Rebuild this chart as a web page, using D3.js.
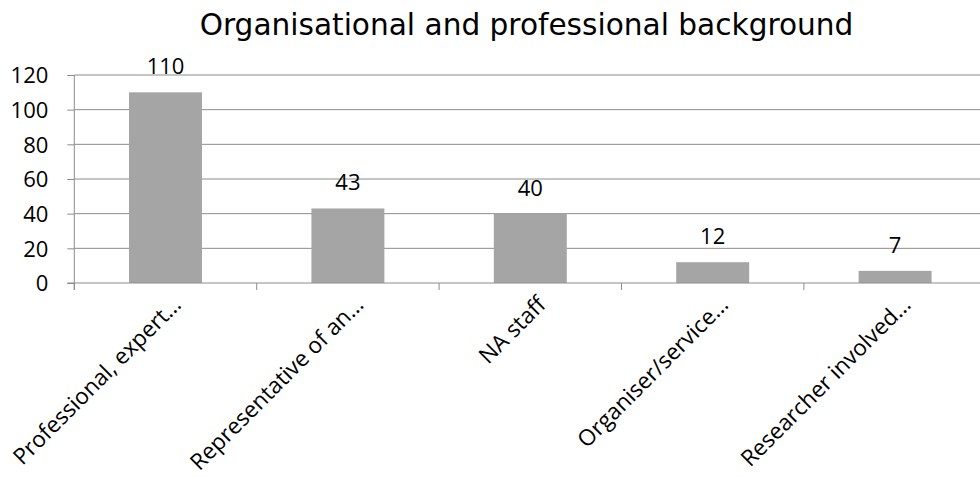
<!DOCTYPE html>
<html><head><meta charset="utf-8">
<script src="https://cdn.jsdelivr.net/npm/d3@7"></script>
<style>body{margin:0;background:#fff;}svg{display:block;}</style>
</head><body>
<script>
const categories = ["Professional, expert…","Representative of an…","NA staff","Organiser/service…","Researcher involved…"];
const values = [110, 43, 40, 12, 7];
const yTicks = [0, 20, 40, 60, 80, 100, 120];
const title = "Organisational and professional background";

(function(){
const W = 980, H = 477;
const svg = d3.select("body").append("svg").attr("width", W).attr("height", H);
const pL = 74.3, pR = 986.3, pT = 75, pB = 283;
const x = d3.scaleBand().domain(categories).range([pL, pR]).paddingInner(0.6).paddingOuter(0.3);
const y = d3.scaleLinear().domain([0, 120]).range([pB, pT]);

svg.append("g").selectAll("line").data(yTicks.filter(d=>d>0)).join("line")
  .attr("x1", pL).attr("x2", pR).attr("y1", d=>y(d)).attr("y2", d=>y(d))
  .attr("stroke", "#8c8c8c").attr("stroke-width", 1);

const yAxis = d3.axisLeft(y).tickValues(yTicks).tickSize(7).tickPadding(19);
const gy = svg.append("g").attr("transform", `translate(${pL},0)`).call(yAxis);
gy.select(".domain").attr("stroke", "#8c8c8c").attr("d", `M0,${pT}V${pB+7}`);
gy.selectAll(".tick line").attr("stroke", "#8c8c8c");
gy.selectAll("text").attr("font-family", "'Open Sans', sans-serif").attr("font-size", 22).attr("fill", "#000").attr("dy", "0.35em");

svg.append("g").selectAll("rect").data(values).join("rect")
  .attr("x", (d,i)=>x(categories[i])).attr("width", x.bandwidth())
  .attr("y", d=>y(d)).attr("height", d=>pB - y(d)).attr("fill", "#a5a5a5");

const xTickPos = categories.map((c,i)=> pL + i*(pR-pL)/categories.length);
xTickPos.push(pR);
const gx = svg.append("g");
gx.append("line").attr("x1", pL-7).attr("x2", pR).attr("y1", pB).attr("y2", pB).attr("stroke", "#8c8c8c");
gx.selectAll("line.t").data(xTickPos).join("line").attr("class","t")
  .attr("x1", d=>d).attr("x2", d=>d).attr("y1", pB).attr("y2", pB+7).attr("stroke", "#8c8c8c");
gx.selectAll("text").data(categories).join("text")
  .attr("transform", d=>`translate(${x(d)+x.bandwidth()/2+17},${pB+23}) rotate(-45)`)
  .attr("text-anchor", "end").attr("font-family", "'Open Sans', sans-serif").attr("font-size", 22.5).attr("fill", "#000")
  .text(d=>d);

svg.append("g").selectAll("text").data(values).join("text")
  .attr("x", (d,i)=>x(categories[i]) + x.bandwidth()/2).attr("y", d=>y(d) - 18)
  .attr("text-anchor", "middle").attr("font-family", "'Open Sans', sans-serif").attr("font-size", 22).attr("fill", "#000")
  .text(d=>d);

svg.append("text").attr("x", 526.5).attr("y", 35).attr("text-anchor", "middle")
  .attr("font-family", "'DejaVu Sans', Verdana, sans-serif").attr("font-size", 29.6).attr("fill", "#000")
  .text(title);
})();
</script>
</body></html>
